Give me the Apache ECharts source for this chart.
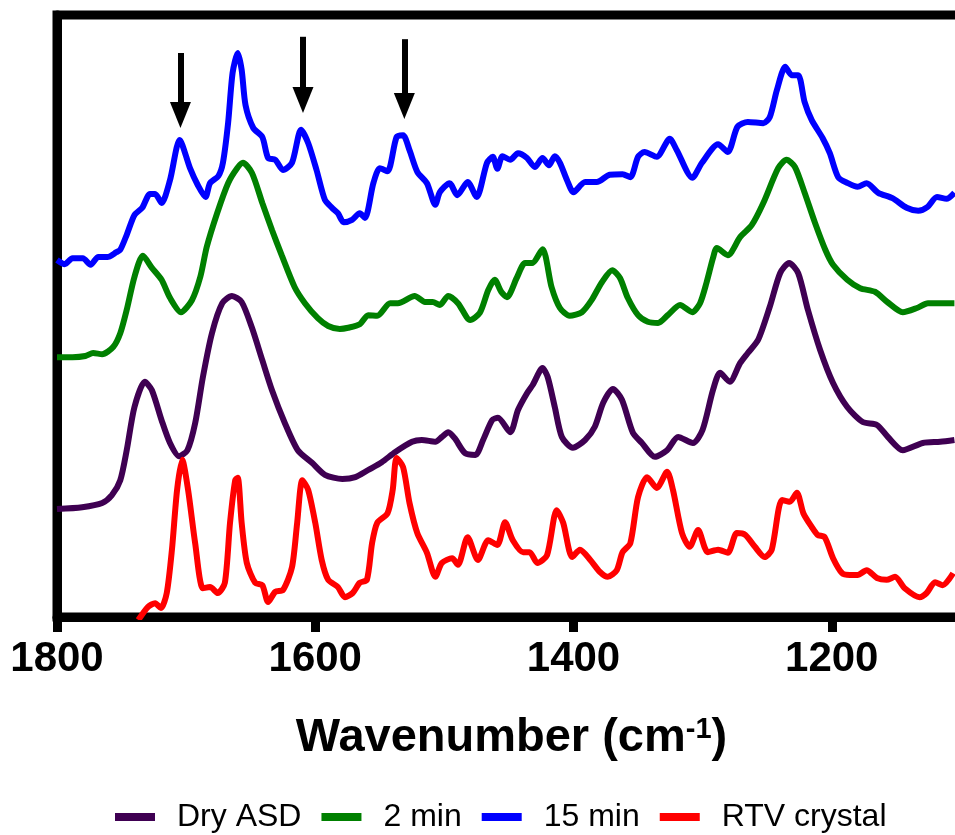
<!DOCTYPE html>
<html>
<head>
<meta charset="utf-8">
<script src="https://cdn.jsdelivr.net/npm/echarts@6/dist/echarts.min.js"></script>
<style>
  html, body { margin: 0; padding: 0; background: #fff; }
  #main { width: 955px; height: 835px; }
</style>
</head>
<body>
<div id="main"></div>
<script>
// spectra: [wavenumber (cm-1), absorbance (offset, a.u.)]
var dryASD = [
  [1800, 18.0], [1780.5, 18.3], [1765, 19.0], [1757.5, 20.3], [1751, 22.8], [1746, 27.8],
  [1740, 35.0], [1732, 39.2], [1726.5, 37.8], [1719, 32.8], [1712.5, 29.0], [1705.5, 26.8],
  [1699, 27.8], [1693, 32.3], [1687, 40.0], [1680, 47.3], [1672, 52.3], [1664.5, 53.5],
  [1657, 52.5], [1649, 48.2], [1641, 42.8], [1633.5, 37.8], [1623.5, 32.3], [1613.5, 27.8],
  [1602.5, 25.7], [1592.5, 23.7], [1579, 23.0], [1569, 23.3], [1559, 24.5], [1548.5, 25.8],
  [1538, 27.5], [1525, 29.2], [1517.5, 29.5], [1507, 29.2], [1502, 30.0], [1497, 30.8],
  [1492, 29.8], [1484, 27.3], [1476, 27.0], [1470, 29.5], [1463, 32.8], [1458.5, 33.2],
  [1449, 30.8], [1443, 34.5], [1436, 37.3], [1431.5, 38.7], [1424, 41.5], [1420, 40.0],
  [1414.5, 35.0], [1409, 30.0], [1400.5, 28.2], [1391, 29.5], [1383.5, 31.7], [1377, 35.7],
  [1369.5, 38.0], [1362.5, 36.2], [1354, 30.7], [1347, 29.0], [1337, 26.7], [1327.5, 27.8],
  [1319, 30.0], [1307.5, 29.0], [1300, 31.2], [1292, 37.8], [1286.5, 40.7], [1279, 39.2],
  [1271, 42.3], [1265, 44.0], [1257, 46.2], [1248, 51.7], [1240, 57.3], [1233, 59.0],
  [1226, 57.3], [1218.5, 51.2], [1209, 44.5], [1199, 39.0], [1188, 35.0], [1176, 32.5],
  [1165, 32.0], [1156.5, 30.0], [1145, 27.8], [1129.5, 29.0], [1116, 29.2], [1105, 29.5]
];

var min2 = [
  [1800, 43.3], [1788, 43.3], [1778, 43.5], [1772, 44.0], [1765, 43.8], [1756.5, 45.0],
  [1751, 47.3], [1746, 51.2], [1740, 56.7], [1733.5, 60.2], [1726.5, 58.2], [1719, 56.2],
  [1712.5, 53.2], [1704, 50.8], [1695.5, 52.8], [1689, 56.7], [1684, 61.7], [1676, 67.3],
  [1667.5, 72.3], [1660.5, 74.8], [1656, 75.7], [1649, 74.0], [1641, 69.0], [1633.5, 64.5],
  [1626, 60.3], [1616, 55.0], [1608, 52.3], [1598, 49.8], [1590, 48.5], [1581, 48.0],
  [1574.5, 48.2], [1565.5, 48.8], [1559, 50.3], [1552, 50.2], [1542, 52.3], [1536, 52.3],
  [1523, 53.5], [1515, 52.5], [1509, 52.5], [1503.5, 52.0], [1497, 53.5], [1489.5, 52.3],
  [1480, 49.5], [1472.5, 50.7], [1466, 54.5], [1461, 56.2], [1456, 54.2], [1451.5, 53.3],
  [1444, 56.5], [1437.5, 59.0], [1432, 59.0], [1424, 61.3], [1417, 55.0], [1410.5, 51.5],
  [1403, 50.2], [1393.5, 50.8], [1386, 52.8], [1378, 55.8], [1370, 57.8], [1364, 56.5],
  [1358, 53.2], [1350, 50.3], [1342.5, 49.2], [1334.5, 49.0], [1327, 50.3], [1317.5, 52.0],
  [1308, 50.8], [1302, 52.3], [1297, 55.7], [1292, 59.8], [1289, 61.5], [1280.5, 60.3],
  [1271, 63.3], [1262, 65.3], [1253, 69.0], [1241.5, 74.8], [1235, 76.2], [1228.5, 75.0],
  [1221, 70.7], [1213, 65.7], [1205, 61.2], [1199, 58.7], [1188, 56.2], [1178, 54.8],
  [1166.5, 54.2], [1157, 52.5], [1145, 50.8], [1134, 51.5], [1125.5, 52.3], [1114, 52.3],
  [1105, 52.3]
];

var min15 = [
  [1800, 59.5], [1794, 58.8], [1788, 59.8], [1780, 59.8], [1774, 58.7], [1768, 60.0],
  [1761, 60.0], [1754, 60.8], [1751, 61.2], [1746, 63.7], [1740, 67.0], [1734, 68.2],
  [1728, 70.5], [1724, 70.5], [1719, 69.0], [1712.5, 72.8], [1705, 79.5], [1697, 74.8],
  [1691, 72.0], [1685, 70.0], [1681.5, 72.3], [1675, 73.5], [1671.5, 75.7], [1667.5, 82.3],
  [1664, 90.7], [1660, 94.0], [1657, 91.2], [1654, 85.3], [1648, 81.5], [1641, 80.0],
  [1636.5, 76.5], [1631, 76.2], [1625, 74.5], [1618, 75.7], [1611, 81.2], [1605.5, 79.0],
  [1599, 74.5], [1592.5, 69.5], [1587, 68.2], [1582.5, 67.3], [1578, 65.8], [1571.5, 66.2],
  [1565.5, 67.3], [1561.5, 66.5], [1555, 72.3], [1550, 74.8], [1544, 74.3], [1537, 80.0],
  [1532, 80.3], [1527, 77.8], [1521, 74.2], [1513.5, 72.3], [1507, 68.7], [1503.5, 70.8],
  [1496, 72.3], [1490, 70.3], [1482, 72.5], [1475, 70.0], [1467, 75.7], [1462.5, 76.7],
  [1459, 74.7], [1455, 76.8], [1449, 76.2], [1443, 77.3], [1436, 76.5], [1430, 75.0],
  [1424, 76.5], [1419, 75.3], [1414.5, 76.8], [1410.5, 75.7], [1405, 72.8], [1400, 70.8],
  [1391, 72.5], [1382, 72.5], [1372, 73.7], [1362, 73.8], [1356, 73.3], [1350, 76.7],
  [1345, 77.5], [1335.5, 76.7], [1325.5, 79.7], [1320, 77.8], [1308, 73.2], [1300.5, 75.7],
  [1288, 78.8], [1280.5, 77.5], [1273, 81.7], [1265, 82.5], [1253, 82.3], [1248, 83.3],
  [1242.5, 87.8], [1236, 91.7], [1231, 90.3], [1226, 90.3], [1221, 85.8], [1215.5, 82.8],
  [1207, 79.8], [1201.5, 77.3], [1195, 73.3], [1187.5, 72.3], [1180, 71.7], [1173, 72.3],
  [1164, 70.7], [1153, 69.8], [1142, 68.2], [1133, 67.7], [1126, 68.3], [1118.5, 70.0],
  [1111, 69.7], [1105, 70.7]
];

var rtvCrystal = [
  [1737, -0.5], [1729.5, 1.7], [1724, 2.3], [1719.5, 1.5], [1715, 4.0], [1711, 11.2],
  [1707, 21.2], [1703, 26.2], [1698.5, 21.2], [1693, 12.3], [1687, 4.8], [1681.5, 5.0],
  [1675.5, 4.0], [1670, 5.7], [1666, 15.7], [1662, 22.8], [1660, 23.2], [1657, 15.7],
  [1653, 9.0], [1646.5, 5.7], [1641, 5.3], [1636.5, 2.5], [1631, 4.2], [1625, 4.5],
  [1618, 8.3], [1614, 15.7], [1610, 22.8], [1605.5, 21.2], [1600, 15.7], [1595, 9.5],
  [1590, 6.2], [1582.5, 5.0], [1577, 3.3], [1571, 4.0], [1565.5, 5.7], [1560, 6.2],
  [1556, 12.3], [1552, 15.7], [1544, 17.3], [1540, 21.2], [1537, 26.5], [1532, 25.0],
  [1527, 19.0], [1521, 14.0], [1513.5, 10.7], [1507, 6.7], [1502, 9.0], [1494, 9.8],
  [1489.5, 8.7], [1482, 13.3], [1474, 9.5], [1466, 12.8], [1459, 12.0], [1453, 15.8],
  [1447, 12.8], [1439, 10.8], [1434, 10.8], [1428, 9.0], [1420.5, 10.3], [1413, 17.8],
  [1408, 15.7], [1401, 10.0], [1395, 11.2], [1387, 9.5], [1379.5, 7.5], [1373.5, 6.7],
  [1366.5, 7.8], [1362, 10.8], [1356, 12.3], [1350, 20.0], [1343, 23.3], [1335.5, 21.5],
  [1327.5, 24.2], [1323, 21.2], [1316, 14.0], [1310, 11.7], [1303.5, 14.5], [1296, 10.8],
  [1288, 11.2], [1280.5, 10.7], [1273.5, 14.0], [1267, 13.7], [1259.5, 11.7], [1252, 10.0],
  [1246.5, 11.2], [1238.5, 19.5], [1232.5, 19.2], [1227, 20.7], [1222, 17.3], [1215.5, 15.0],
  [1211, 13.7], [1205.5, 13.3], [1199, 9.8], [1192, 7.3], [1186, 7.0], [1180, 7.0],
  [1173, 7.8], [1165, 6.5], [1157.5, 6.2], [1151, 6.7], [1143.5, 4.8], [1132, 3.3],
  [1126.5, 4.0], [1120, 5.8], [1114, 5.3], [1106, 7.3]
];

var seriesNames = ['Dry ASD', '2 min', '15 min', 'RTV crystal'];
var seriesColors = ['#3f0052', '#008000', '#0000ff', '#ff0000'];
var seriesData = [dryASD, min2, min15, rtvCrystal];

// arrows over the 15 min bands: [wavenumber, tail, tip]
var arrows = [[1704.4, 94.0, 81.5], [1609.5, 96.7, 84.0], [1531, 96.3, 83.0]];
var xTicks = [1800, 1600, 1400, 1200];

var chart = echarts.init(document.getElementById('main'));

var series = seriesNames.map(function (name, i) {
  return {
    name: name,
    type: 'line',
    data: seriesData[i],
    showSymbol: false,
    smooth: 0.25,
    clip: true,
    color: seriesColors[i],
    lineStyle: { color: seriesColors[i], width: 6 },
    emphasis: { disabled: true }
  };
});

// half of the head is past the end point, pull it back so the tip lands right
var headLen = 26, pxPerUnit = 6;
series[2].markLine = {
  silent: true,
  symbol: ['none', 'triangle'],
  symbolSize: [21, headLen],
  label: { show: false },
  lineStyle: { color: '#000', width: 6, type: 'solid' },
  emphasis: { disabled: true },
  data: arrows.map(function (a) {
    return [{ coord: [a[0], a[1]] }, { coord: [a[0], a[2] + headLen / 2 / pxPerUnit] }];
  })
};

var option = {
  animation: false,
  textStyle: { fontFamily: 'Liberation Sans, Arial, sans-serif' },
  grid: {
    left: 57, top: 15, width: 1033, height: 602,
    show: true, borderWidth: 9, borderColor: '#000',
    outerBoundsMode: 'none'
  },
  legend: {
    data: seriesNames,
    left: 110, top: 796,
    icon: 'rect',
    itemWidth: 40, itemHeight: 8, itemGap: 20,
    textStyle: { fontSize: 32, color: '#000', padding: [0, 0, 0, 17] }
  },
  xAxis: {
    type: 'value',
    inverse: true,
    min: 1000, max: 1800, interval: 200,
    name: '{t|Wavenumber (cm}{s|-1}{t|)}',
    nameLocation: 'middle',
    nameGap: 98,
    nameTextStyle: {
      // the axis runs past the right edge, so pull the title back to the visible middle
      padding: [0, 124, 0, 0],
      rich: {
        t: { fontSize: 47, fontWeight: 'bold', color: '#000', fontFamily: 'Liberation Sans' },
        s: { fontSize: 29, fontWeight: 'bold', color: '#000', fontFamily: 'Liberation Sans', verticalAlign: 'top' }
      }
    },
    axisLine: { lineStyle: { color: '#000', width: 9 } },
    axisTick: { length: 15, lineStyle: { color: '#000', width: 9 } },
    axisLabel: {
      margin: 21, fontSize: 42, fontWeight: 'bold', color: '#000',
      formatter: function (v) { return xTicks.indexOf(v) >= 0 ? String(v) : ''; }
    },
    splitLine: { show: false }
  },
  yAxis: {
    type: 'value',
    min: 0, max: 100.33,
    axisLine: { show: true, lineStyle: { color: '#000', width: 9 } },
    axisTick: { show: false },
    axisLabel: { show: false },
    splitLine: { show: false }
  },
  series: series
};

chart.setOption(option);
</script>
</body>
</html>
